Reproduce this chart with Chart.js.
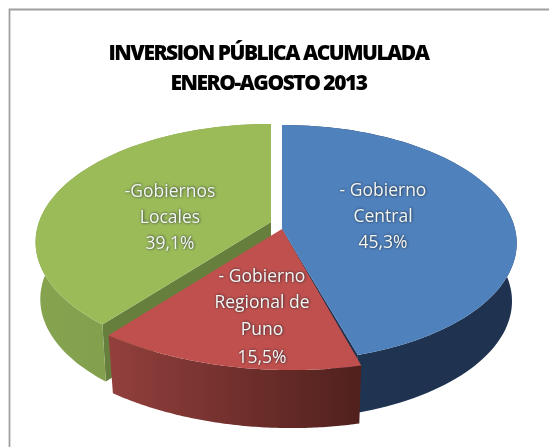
<!DOCTYPE html>
<html>
<head>
<meta charset="utf-8">
<style>
html,body{margin:0;padding:0;background:#fff}
canvas{display:block;filter:blur(.7px)}
</style>
<script src="https://cdn.jsdelivr.net/npm/chart.js@4"></script>
</head>
<body>
<canvas id="c" width="549" height="447"></canvas>
<script>
const titleLines = ['INVERSION PÚBLICA ACUMULADA', 'ENERO-AGOSTO 2013'];
const categories = ['Gobierno Central', 'Gobierno Regional de Puno', 'Gobiernos Locales'];
const shareValues = [45.3, 15.5, 39.1];
const labelLines = [['- Gobierno', 'Central'], ['- Gobierno', 'Regional de', 'Puno'], ['-Gobiernos', 'Locales']];
const topColors = ['#4F81BD', '#C0504D', '#9BBB59'];
const wallColors = [['#1F3552', '#1F3250'], ['#93403D', '#50201D'], ['#86A350', '#7B9848']];
const cutColors = ['#1E3350', '#7A2F2D', '#677F3C'];

// 3D projection of each slice (apex, radii, perspective, tilt, wall depth)
const views = [
  {ax: 282, ay: 229, a: 233, b: 116.5, k: .12, tilt: 0, depth: 58, shrink: .98},
  {ax: 282, ay: 229, a: 275, b: 141, k: 0, tilt: 5, depth: 58, shrink: .975},
  {ax: 271, ay: 222, a: 232, b: 114.7, k: .17, tilt: 0, depth: 57, shrink: .98}
];
const labelPlaces = [
  {x: 383, ys: [191, 217, 243]},
  {x: 262, ys: [277, 303, 330, 358]},
  {x: 170, ys: [192, 218, 244]}
];

function project(v, t) {
  const sx = Math.sin(t), s = -Math.cos(t), w = 1 - v.k * s;
  return [v.ax + v.a * sx / w, v.ay + v.b * s / w + v.tilt * sx];
}
function lower(v, p) {
  return [v.ax + (p[0] - v.ax) * v.shrink, p[1] + v.depth];
}
function arcPoints(v, t0, t1) {
  const n = 90, pts = [];
  for (let i = 0; i <= n; i++) pts.push(project(v, t0 + (t1 - t0) * i / n));
  return pts;
}
function poly(ctx, pts, fill) {
  ctx.beginPath();
  pts.forEach((p, i) => i ? ctx.lineTo(p[0], p[1]) : ctx.moveTo(p[0], p[1]));
  ctx.closePath();
  ctx.fillStyle = fill;
  ctx.fill();
}

const pie3d = {
  id: 'pie3d',
  beforeDraw(chart) {
    const ctx = chart.ctx;
    ctx.fillStyle = '#fff';
    ctx.fillRect(0, 0, chart.width, chart.height);
    ctx.strokeStyle = '#a0a0a0';
    ctx.lineWidth = 1.8;
    ctx.beginPath();
    ctx.moveTo(9.5, chart.height);
    ctx.lineTo(9.5, 9.5);
    ctx.lineTo(chart.width, 9.5);
    ctx.stroke();
    ctx.letterSpacing = '-1.5px';
  },
  beforeDatasetsDraw(chart) {
    const ctx = chart.ctx;
    ctx.letterSpacing = '0px';
    const arcs = chart.getDatasetMeta(0).data;
    const spans = arcs.map(el => [el.startAngle + Math.PI / 2, el.endAngle + Math.PI / 2]);
    // walls, back to front: blue, green, red
    [0, 2, 1].forEach(i => {
      const v = views[i], [t0, t1] = spans[i];
      const pts = arcPoints(v, t0, t1);
      const low = pts.map(p => lower(v, p));
      const xs = pts.concat(low).map(p => p[0]);
      const g = ctx.createLinearGradient(Math.min(...xs), 0, Math.max(...xs), 0);
      g.addColorStop(0, wallColors[i][0]);
      g.addColorStop(1, wallColors[i][1]);
      const apex = [v.ax, v.ay];
      if (i !== 1) {
        const edge = i === 0 ? pts[pts.length - 1] : pts[0];
        poly(ctx, [apex, edge, lower(v, edge), lower(v, apex)], cutColors[i]);
      }
      poly(ctx, pts.concat(low.slice().reverse()), g);
    });
    // top faces
    [0, 2, 1].forEach(i => {
      const v = views[i], [t0, t1] = spans[i];
      poly(ctx, [[v.ax, v.ay]].concat(arcPoints(v, t0, t1)), topColors[i]);
    });
    // data labels
    ctx.font = '17.5px "Open Sans"';
    ctx.textAlign = 'center';
    ctx.textBaseline = 'middle';
    arcs.forEach((el, i) => {
      const lines = labelLines[i].concat(shareValues[i].toFixed(1).replace('.', ',') + '%');
      ctx.save();
      ctx.shadowColor = 'rgba(15,25,40,.95)';
      ctx.shadowBlur = 3;
      ctx.shadowOffsetX = .5;
      ctx.shadowOffsetY = .5;
      ctx.fillStyle = '#f4f6f2';
      lines.forEach((s, j) => ctx.fillText(s, labelPlaces[i].x, labelPlaces[i].ys[j]));
      ctx.restore();
    });
    return false;
  }
};

new Chart(document.getElementById('c'), {
  type: 'pie',
  data: {
    labels: categories,
    datasets: [{data: shareValues, backgroundColor: topColors, borderWidth: 0}]
  },
  options: {
    responsive: false,
    animation: false,
    devicePixelRatio: 1,
    layout: {padding: {right: 12}},
    plugins: {
      legend: {display: false},
      tooltip: {enabled: false},
      title: {
        display: true,
        text: titleLines,
        color: '#000',
        font: {family: '"Open Sans"', size: 21, weight: '800', lineHeight: 1.43},
        padding: {top: 39, bottom: 8}
      }
    }
  },
  plugins: [pie3d]
});
</script>
</body>
</html>
